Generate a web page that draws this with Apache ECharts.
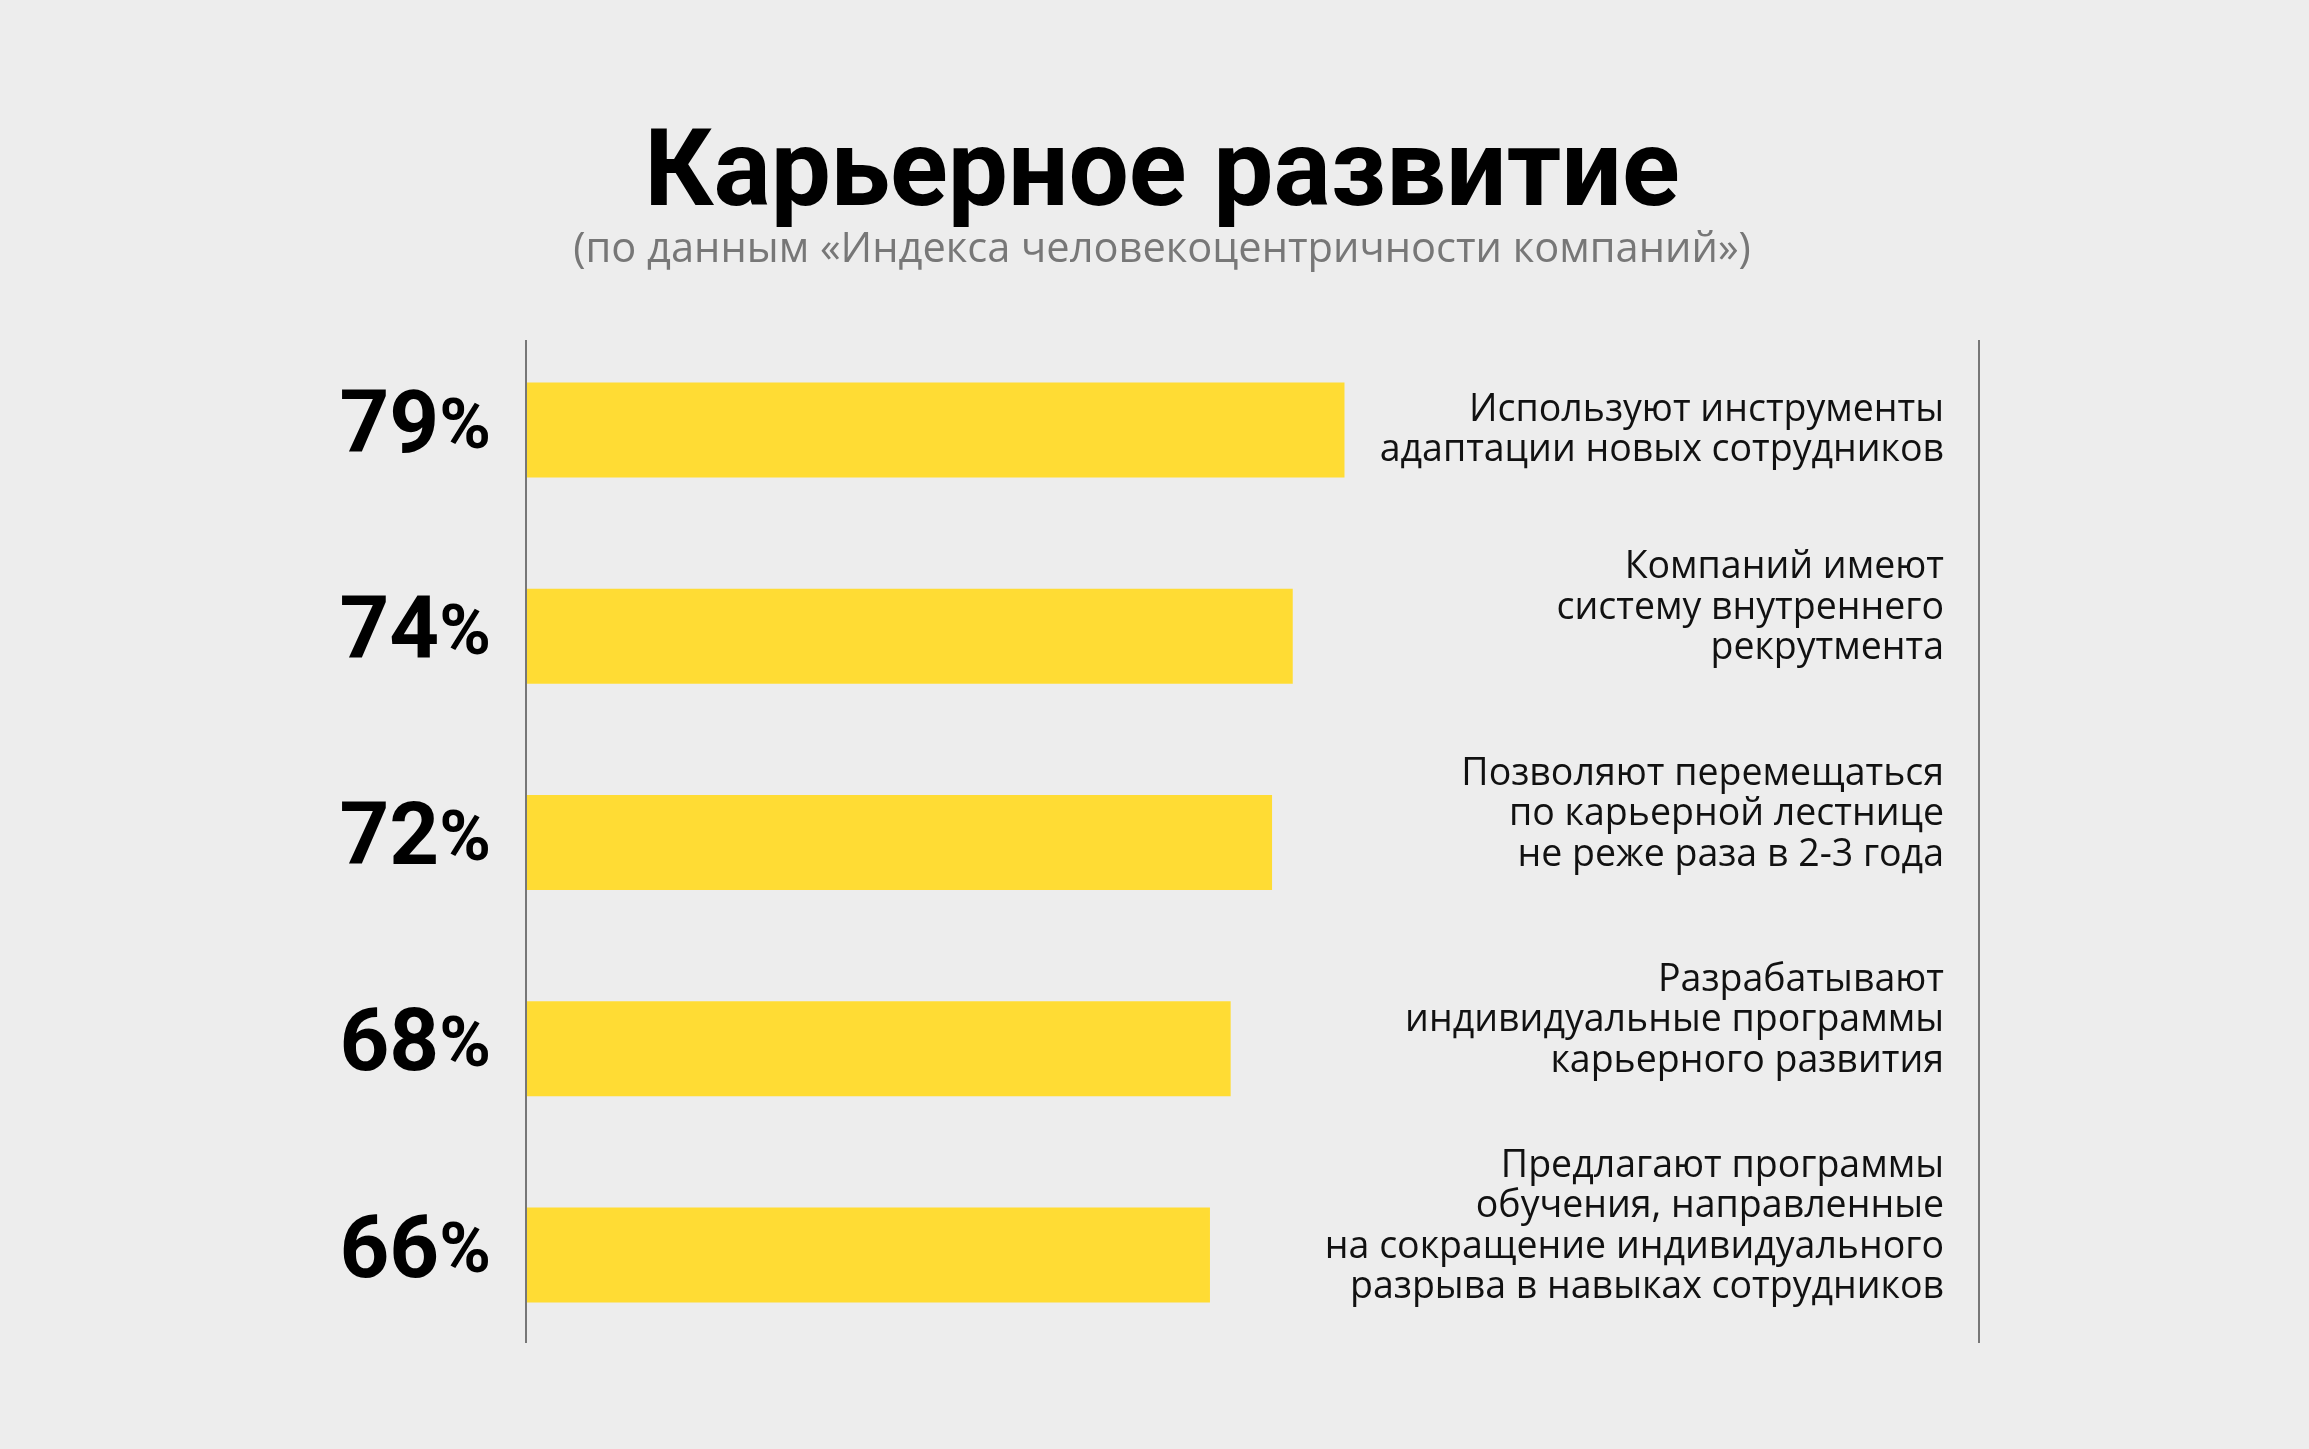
<!DOCTYPE html>
<html>
<head>
<meta charset="utf-8">
<script src="https://cdn.jsdelivr.net/npm/echarts@6/dist/echarts.min.js"></script>
<style>
  html, body { margin: 0; padding: 0; background: #ededed; }
  #chart { width: 2309px; height: 1449px; }
</style>
</head>
<body>
<div id="chart"></div>
<script>
const titleText = 'Карьерное развитие';
const subtitleText = '(по данным «Индекса человекоцентричности компаний»)';
const categories = [
  'Используют инструменты\nадаптации новых сотрудников',
  'Компаний имеют\nсистему внутреннего\nрекрутмента',
  'Позволяют перемещаться\nпо карьерной лестнице\nне реже раза в 2-3 года',
  'Разрабатывают\nиндивидуальные программы\nкарьерного развития',
  'Предлагают программы\nобучения, направленные\nна сокращение индивидуального\nразрыва в навыках сотрудников'
];
const values = [79, 74, 72, 68, 66];

const chart = echarts.init(document.getElementById('chart'), null, { renderer: 'canvas' });

const GRID_LEFT = 527, GRID_TOP = 327, GRID_W = 1034.8, GRID_H = 1031;

chart.setOption({
  backgroundColor: '#ededed',
  animation: false,
  title: [
    {
      text: titleText,
      left: 1157,
      textAlign: 'center',
      top: 120,
      textStyle: { fontFamily: 'Roboto', fontWeight: 'bold', fontSize: 107, color: '#000' }
    },
    {
      text: subtitleText,
      left: 1157,
      textAlign: 'center',
      top: 224,
      textStyle: { fontFamily: 'Open Sans', fontWeight: 'normal', fontSize: 41.6, color: '#777777' }
    }
  ],
  grid: { left: GRID_LEFT, top: GRID_TOP, width: GRID_W, height: GRID_H, containLabel: false },
  xAxis: { type: 'value', min: 0, max: 100, show: false },
  yAxis: [
    {
      type: 'category', data: categories, inverse: true, show: false
    },
    {
      type: 'category', data: categories, inverse: true, position: 'right',
      axisLine: { show: false }, axisTick: { show: false },
      axisLabel: {
        show: true,
        align: 'right',
        margin: 1944 - (GRID_LEFT + GRID_W),
        fontFamily: 'Open Sans',
        fontSize: 37.5,
        lineHeight: 40.5,
        color: '#111',
        formatter: function (v, i) { return i > 0 ? v + '\n{sp| }' : v; },
        rich: { sp: { lineHeight: 56, fontSize: 10 } }
      }
    }
  ],
  graphic: [
    { type: 'line', shape: { x1: 526, y1: 340, x2: 526, y2: 1343 }, style: { stroke: '#777', lineWidth: 2 } },
    { type: 'line', shape: { x1: 1979, y1: 340, x2: 1979, y2: 1343 }, style: { stroke: '#777', lineWidth: 2 } }
  ],
  series: [{
    type: 'bar',
    yAxisIndex: 0,
    data: values,
    barWidth: 95,
    itemStyle: { color: '#FFDC34' },
    label: {
      show: true,
      position: 'left',
      distance: 36,
      formatter: '{n|{c}}{p|%}',
      rich: {
        n: { fontFamily: 'Roboto', fontWeight: 'bold', fontSize: 87, color: '#000' },
        p: { fontFamily: 'Roboto', fontWeight: 'bold', fontSize: 70, color: '#000' }
      }
    }
  }]
});
</script>
</body>
</html>
